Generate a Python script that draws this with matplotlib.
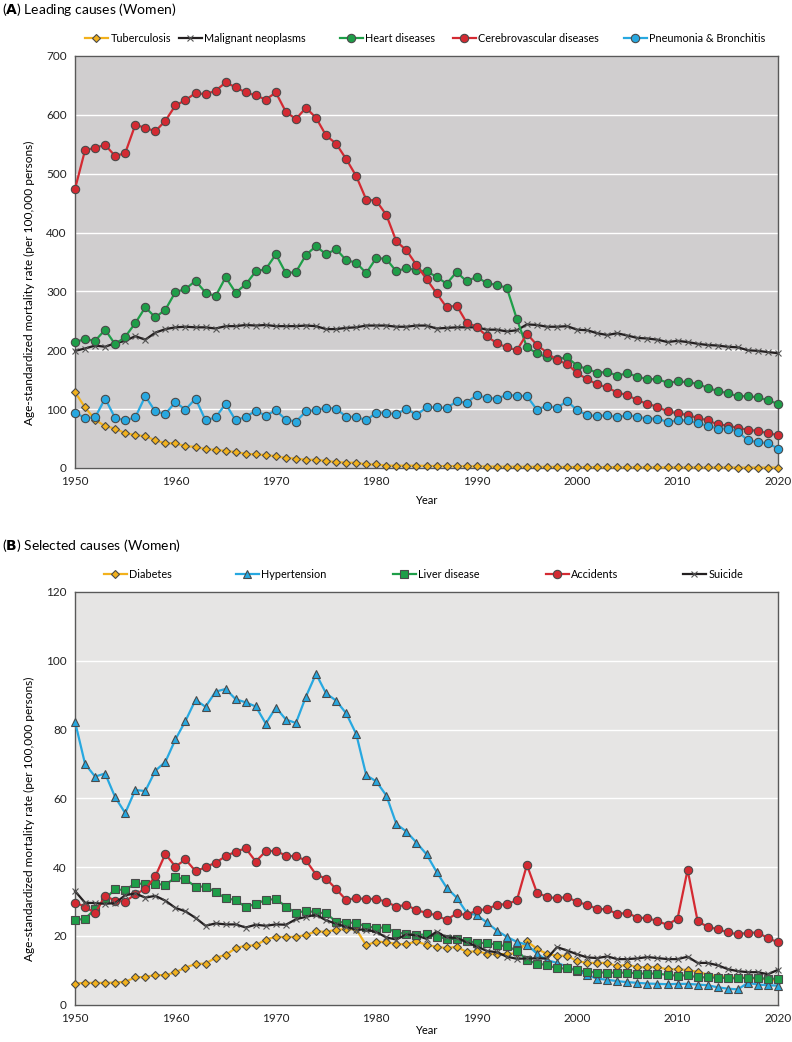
import numpy as np
import matplotlib
matplotlib.use("Agg")
import matplotlib.pyplot as plt

plt.rcParams['font.family'] = ['Lato', 'DejaVu Sans']

years = list(range(1950, 2021))

# ----- (A) leading causes -----
tuberculosis = [129, 103, 82, 71, 67, 59, 56, 54, 47, 42, 42, 37, 36, 32, 31, 29, 27, 24, 23, 22,
                20, 17, 16, 14, 14, 12, 10, 9, 9, 6, 6, 4, 4, 4, 4, 3.5, 3.3, 3.1, 3.0, 2.8,
                2.7, 2.5, 2.3, 2.2, 2.1, 2.0, 2.0, 1.9, 1.8, 1.7, 1.6, 1.5, 1.4, 1.4, 1.3, 1.3, 1.2, 1.2, 1.1, 1.1,
                1.0, 1.0, 1.0, 0.9, 0.9, 0.9, 0.8, 0.8, 0.8, 0.8, 0.8]
malignant = [199, 203, 208, 206, 212, 216, 224, 218, 230, 236, 239, 240, 239, 239, 237, 241, 241, 243, 242, 243,
             241, 241, 241, 242, 241, 236, 236, 238, 239, 242, 242, 242, 240, 240, 242, 242, 237, 238, 239, 239,
             239, 235, 235, 232, 234, 244, 243, 240, 240, 241, 235, 234, 229, 226, 229, 225, 221, 220, 218, 214,
             216, 214, 211, 209, 208, 206, 205, 200, 199, 197, 195]
heart = [214, 219, 216, 235, 210, 223, 246, 273, 256, 269, 299, 304, 318, 298, 292, 324, 298, 312, 334, 338,
         363, 331, 333, 362, 377, 363, 372, 353, 349, 331, 357, 355, 334, 340, 336, 334, 325, 313, 333, 317,
         325, 314, 311, 306, 253, 205, 195, 188, 185, 188, 174, 168, 162, 163, 157, 161, 155, 151, 151, 145,
         147, 146, 143, 136, 131, 127, 122, 122, 120, 115, 109]
cerebro = [474, 540, 544, 549, 530, 535, 583, 578, 572, 590, 616, 625, 637, 635, 641, 655, 647, 638, 633, 626,
           638, 605, 593, 612, 595, 565, 551, 525, 496, 456, 454, 430, 385, 370, 345, 321, 297, 273, 276, 247,
           240, 224, 212, 205, 200, 228, 209, 196, 183, 177, 161, 151, 142, 137, 128, 124, 115, 109, 104, 96,
           93, 90, 85, 81, 74, 72, 68, 65, 63, 59, 56]
pneumonia = [94, 85, 86, 118, 85, 81, 86, 122, 96, 92, 112, 99, 118, 81, 86, 109, 81, 87, 97, 89,
             98, 82, 79, 96, 99, 102, 101, 87, 87, 81, 94, 94, 91, 101, 90, 103, 103, 102, 113, 111,
             124, 119, 118, 124, 123, 122, 99, 106, 102, 114, 98, 90, 88, 90, 86, 90, 87, 84, 84, 78,
             81, 81, 76, 72, 67, 67, 62, 47, 44, 42, 33]

# ----- (B) selected causes -----
diabetes = [6.1, 6.3, 6.3, 6.3, 6.4, 6.6, 7.9, 8.0, 8.6, 8.5, 9.4, 10.7, 11.8, 11.9, 13.6, 14.4, 16.4, 17.1, 17.2, 18.9,
            19.7, 19.6, 19.7, 20.2, 21.3, 21.1, 21.8, 21.9, 21.9, 17.2, 18.3, 18.1, 17.6, 17.5, 18.4, 17.3, 16.8, 16.4, 16.8, 15.3,
            15.5, 14.8, 14.6, 14.7, 14.9, 18.4, 16.2, 14.7, 14.2, 14.2, 12.6, 12.1, 12.1, 12.1, 11.1, 11.6, 10.8, 10.9, 10.9, 10.2,
            10.3, 10.0, 9.5, 8.7, 8.2, 8.0, 7.8, 7.8, 7.4, 7.4, 6.8]
hypertension = [82.3, 70.0, 66.3, 67.2, 60.3, 55.7, 62.4, 62.1, 68.0, 70.6, 77.1, 82.5, 88.6, 86.6, 91.0, 91.8, 88.8, 87.9, 86.7, 81.7,
                86.4, 82.9, 81.9, 89.6, 96.2, 90.5, 88.4, 84.7, 78.7, 66.7, 64.9, 60.8, 52.5, 50.3, 47.1, 43.7, 38.6, 34.0, 31.1, 26.7,
                26.0, 23.9, 21.5, 19.7, 18.2, 17.4, 14.8, 12.9, 12.1, 11.0, 9.8, 8.6, 7.5, 7.2, 6.8, 6.5, 6.3, 6.1, 6.0, 5.9,
                6.0, 6.0, 5.8, 5.6, 5.0, 4.6, 4.4, 6.3, 5.8, 5.6, 5.5]
liver = [24.5, 25.0, 27.7, 30.7, 33.6, 33.2, 35.3, 35.0, 35.1, 34.8, 37.0, 36.4, 34.3, 34.3, 32.7, 30.9, 30.4, 28.3, 29.3, 30.4,
         30.7, 28.5, 26.6, 27.3, 26.8, 26.5, 24.1, 23.8, 23.8, 22.6, 22.4, 22.3, 20.9, 20.6, 20.2, 20.4, 19.7, 19.2, 19.0, 18.6,
         17.9, 17.9, 17.4, 16.9, 15.7, 12.9, 11.9, 11.5, 10.5, 10.5, 10.0, 9.5, 9.3, 9.3, 9.2, 9.3, 9.0, 9.0, 9.0, 8.6,
         8.4, 8.5, 7.9, 7.9, 7.8, 7.7, 7.6, 7.8, 7.7, 7.5, 7.5]
accidents = [29.6, 28.5, 26.5, 31.6, 30.2, 29.9, 32.1, 33.6, 37.3, 43.8, 40.1, 42.2, 38.8, 39.9, 41.3, 43.1, 44.5, 45.4, 41.6, 44.6,
             44.7, 43.3, 43.1, 41.9, 37.8, 36.6, 33.6, 30.4, 31.0, 30.6, 30.8, 29.8, 28.5, 29.0, 27.4, 26.7, 25.9, 24.6, 26.5, 26.0,
             27.4, 27.7, 29.0, 29.2, 30.3, 40.6, 32.5, 31.3, 30.9, 31.3, 29.8, 29.0, 27.8, 27.7, 26.3, 26.7, 25.2, 25.2, 24.2, 23.2,
             25.0, 39.2, 24.2, 22.6, 21.9, 21.0, 20.4, 20.9, 20.9, 19.3, 18.1]
suicide = [33.0, 29.6, 29.5, 29.3, 29.5, 31.8, 32.3, 31.1, 31.6, 30.2, 28.1, 27.1, 25.2, 22.9, 23.6, 23.3, 23.3, 22.4, 23.2, 22.9,
           23.3, 23.2, 24.8, 25.5, 26.1, 24.5, 23.5, 22.6, 21.8, 21.8, 21.1, 19.5, 18.9, 20.4, 20.1, 19.1, 21.2, 19.5, 19.4, 18.1,
           16.9, 15.6, 15.2, 13.9, 13.3, 13.4, 13.4, 13.4, 16.7, 15.7, 14.6, 13.7, 13.5, 14.0, 13.2, 13.2, 13.4, 13.8, 13.5, 13.2,
           13.2, 13.9, 12.1, 12.1, 11.4, 10.3, 9.7, 9.4, 9.4, 8.8, 10.1]

yellow = '#F2B11C'
black = '#231F20'
green = '#1E9E48'
red = '#D42A32'
blue = '#27A8E0'
edge = '#4A4A4A'

W, H = 792, 1042
fig = plt.figure(figsize=(W / 100, H / 100), dpi=100)


def panel(top_px, bottom_px, bg, ymax, ystep, series, title, legend_y, legend_x, xlab_y):
    ax = fig.add_axes([75 / W, 1 - bottom_px / H, (778 - 75) / W, (bottom_px - top_px) / H])
    ax.set_facecolor(bg)
    ax.set_xlim(1950, 2020)
    ax.set_ylim(0, ymax)
    ax.set_yticks(np.arange(0, ymax + 1, ystep))
    ax.set_xticks(range(1950, 2021, 10))
    ax.grid(axis='y', color='white', lw=1)
    ax.set_axisbelow(True)
    for s in ax.spines.values():
        s.set_color('#595959')
        s.set_linewidth(1)
    ax.tick_params(length=0, labelsize=8.5, pad=6, colors='#222222')
    ax.set_xlabel('Year', fontsize=8)
    ax.xaxis.set_label_coords(0.5, xlab_y)
    ax.set_ylabel('Age-standardized mortality rate (per 100,000 persons)', fontsize=8.6)
    ax.yaxis.set_label_coords(-0.057, 0.45)

    handles = []
    for vals, label, color, mk, ms in series:
        ln, = ax.plot(years, vals, color=color, lw=1.6, marker=mk, ms=ms,
                      mfc=color if mk != 'x' else black, mec=edge if mk != 'x' else '#555555',
                      mew=0.8, clip_on=False, zorder=3)
        handles.append((ln, label))

    fig.text(2 / W, 1 - (top_px - 47) / H, r'($\bf{' + title[0] + '}$) ' + title[1],
             fontsize=10, va='center', ha='left')
    for (ln, label), x in zip(handles, legend_x):
        fig.legend([ln], [label], loc='center left', bbox_to_anchor=(x / W, 1 - legend_y / H),
                   frameon=False, fontsize=7.8, handlelength=2.1, handletextpad=0.25,
                   borderpad=0, borderaxespad=0)
    return ax


panel(56, 468, '#D0CECF', 700, 100,
      [(tuberculosis, 'Tuberculosis', yellow, 'D', 4),
       (malignant, 'Malignant neoplasms', black, 'x', 4.5),
       (heart, 'Heart diseases', green, 'o', 6),
       (cerebro, 'Cerebrovascular diseases', red, 'o', 6),
       (pneumonia, 'Pneumonia & Bronchitis', blue, 'o', 6)],
      ('A', 'Leading causes (Women)'), 38, [85, 179, 340, 453, 624], -0.066)

panel(592, 1004.5, '#E6E5E4', 120, 20,
      [(diabetes, 'Diabetes', yellow, 'D', 4),
       (hypertension, 'Hypertension', blue, '^', 5.5),
       (liver, 'Liver disease', green, 's', 5.5),
       (accidents, 'Accidents', red, 'o', 6),
       (suicide, 'Suicide', black, 'x', 4.5)],
      ('B', 'Selected causes (Women)'), 574, [104, 236, 393, 546, 683], -0.05)

fig.savefig('out.png', dpi=100)
